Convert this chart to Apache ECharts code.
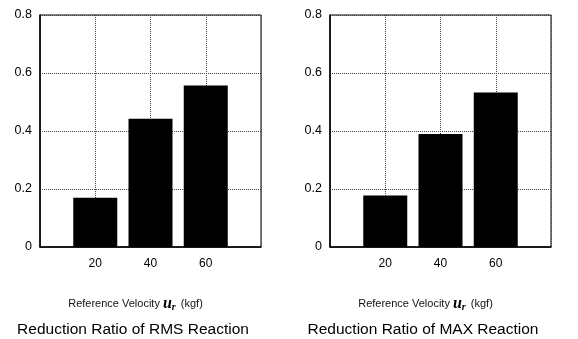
<!DOCTYPE html>
<html>
<head>
<meta charset="utf-8">
<script src="https://cdn.jsdelivr.net/npm/echarts@6/dist/echarts.min.js"></script>
<style>
  html, body { margin: 0; padding: 0; background: #fff; }
  #chart { width: 578px; height: 339px; }
</style>
</head>
<body>
<div id="chart"></div>
<script>
// reference velocities on the x axis
const velocities = [20, 40, 60]
// reduction ratios
const rmsRatio = [0.17, 0.442, 0.557]
const maxRatio = [0.178, 0.39, 0.533]
const yTicks = [0, 0.2, 0.4, 0.6, 0.8]
const titles = ['Reduction Ratio of RMS Reaction', 'Reduction Ratio of MAX Reaction']

const font = 'Liberation Sans, Arial, sans-serif'
const ink = '#000'

const gridLeft = [40, 330]
const grids = gridLeft.map(left => ({
  left,
  top: 15,
  width: 221,
  height: 232,
  show: true,
  borderColor: ink,
  borderWidth: 1,
  backgroundColor: 'transparent',
}))

const xAxes = grids.map((g, i) => ({
  type: 'value',
  gridIndex: i,
  min: 0,
  max: 80,
  interval: 20,
  axisLine: { show: true, onZero: false, lineStyle: { color: ink, width: 1.5 } },
  axisTick: { show: false },
  axisLabel: {
    color: ink,
    fontFamily: font,
    fontSize: 12,
    margin: 11,
    formatter: v => (velocities.includes(v) ? String(v) : ''),
  },
  splitLine: { show: true, lineStyle: { color: '#444', type: 'dotted', width: 1 } },
  name: '{t|Reference Velocity }{u|u}{r|r}{t| (kgf)}',
  nameLocation: 'middle',
  nameGap: 49,
  nameTextStyle: {
    padding: [0, 30, 0, 0],
    rich: {
      t: { fontFamily: font, fontSize: 11, color: '#111' },
      u: { fontFamily: 'Liberation Serif, serif', fontSize: 16, fontStyle: 'italic', fontWeight: 'bold', color: ink },
      r: { fontFamily: 'Liberation Serif, serif', fontSize: 10, fontStyle: 'italic', fontWeight: 'bold', color: ink, verticalAlign: 'bottom', padding: [6, 2, 0, 0] },
    },
  },
}))

const yAxes = grids.map((g, i) => ({
  type: 'value',
  gridIndex: i,
  min: 0,
  max: 0.8,
  interval: 0.2,
  axisLine: { show: true, lineStyle: { color: ink, width: 1.5 } },
  axisTick: { show: false },
  axisLabel: {
    color: ink,
    fontFamily: font,
    fontSize: 12.5,
    margin: 8,
    formatter: v => (yTicks.some(t => Math.abs(t - v) < 1e-9) ? (v === 0 ? '0' : v.toFixed(1)) : ''),
  },
  splitLine: { show: true, lineStyle: { color: '#444', type: 'dotted', width: 1 } },
}))

const makeSeries = (values, i) => ({
  type: 'bar',
  xAxisIndex: i,
  yAxisIndex: i,
  barWidth: 44,
  itemStyle: { color: ink },
  data: velocities.map((v, k) => [v, values[k]]),
})

const chart = echarts.init(document.getElementById('chart'))
chart.setOption({
  animation: false,
  backgroundColor: '#fff',
  title: titles.map((text, i) => ({
    text,
    left: gridLeft[i] + 88,
    top: 317,
    textAlign: 'center',
    textStyle: { fontFamily: font, fontSize: 15.5, fontWeight: 'normal', color: ink },
  })),
  grid: grids,
  xAxis: xAxes,
  yAxis: yAxes,
  series: [makeSeries(rmsRatio, 0), makeSeries(maxRatio, 1)],
})
</script>
</body>
</html>
